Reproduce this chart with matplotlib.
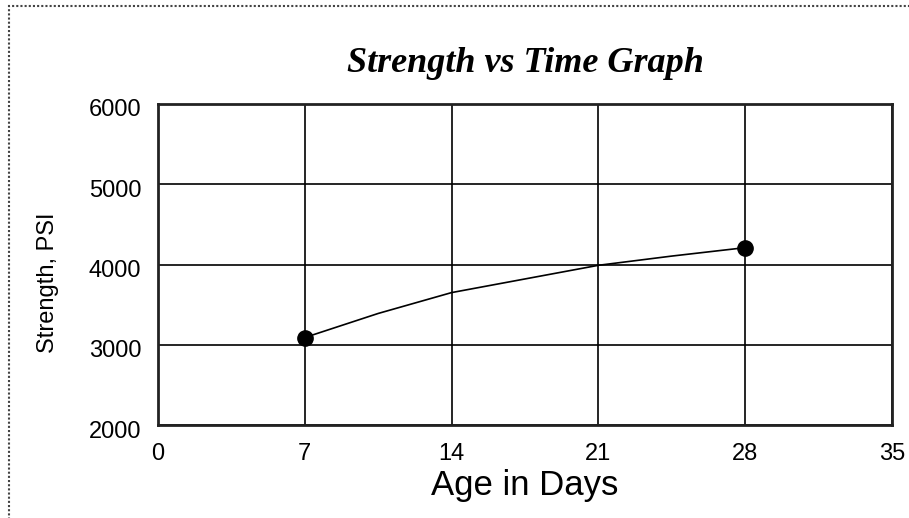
import matplotlib
matplotlib.use("Agg")
import matplotlib.pyplot as plt
from matplotlib.patches import Rectangle
from matplotlib.transforms import ScaledTranslation

# data
days_measured = [7, 28]
strength_measured = [3090, 4210]

days_curve = [7, 10.5, 14, 17.5, 21, 24.5, 28]
strength_curve = [3090, 3390, 3650, 3820, 3990, 4105, 4210]

x_ticks = [0, 7, 14, 21, 28, 35]
y_ticks = [2000, 3000, 4000, 5000, 6000]

fig = plt.figure(figsize=(9.09, 5.18), dpi=100)
ax = fig.add_axes([158 / 909, 1 - 425 / 518, 734 / 909, 321 / 518])

# fitted curve and the two measured points
ax.plot(days_curve, strength_curve, color="black", lw=1.2, zorder=3)
ax.plot(days_measured, strength_measured, "o", color="black",
        markersize=11, zorder=4)

ax.set_xlim(0, 35)
ax.set_ylim(2000, 6000)
ax.set_xticks(x_ticks)
ax.set_yticks(y_ticks)
ax.grid(True, color="black", lw=1.2, ls="-")
ax.set_axisbelow(True)
for sp in ax.spines.values():
    sp.set_linewidth(2.0)
    sp.set_color("#222222")

ax.tick_params(axis="both", length=0)
ax.tick_params(axis="x", pad=13, labelsize=17)
ax.tick_params(axis="y", pad=12, labelsize=17)
for lab in ax.get_xticklabels() + ax.get_yticklabels():
    lab.set_fontfamily("Liberation Sans")
# y labels sit a few pixels below their grid line in the original
down = ScaledTranslation(0, -4 / 100, fig.dpi_scale_trans)
for lab in ax.get_yticklabels():
    lab.set_transform(lab.get_transform() + down)

ax.set_xlabel("Age in Days", fontsize=25, family="Liberation Sans", labelpad=3)
ax.set_ylabel("Strength, PSI", fontsize=17, family="Liberation Sans")
ax.yaxis.set_label_coords((48 - 158) / 734, (425 - 283) / 321)
ax.yaxis.label.set_va("center")

fig.text(525 / 909, 1 - 63 / 518, "Strength vs Time Graph",
         family="Liberation Serif", style="italic", weight="bold",
         fontsize=26, ha="center", va="center")

# dotted frame around the whole picture (right/bottom run off the edge)
fig.add_artist(Rectangle((9 / 909, -0.05), 1.2, 1 - 6 / 518 + 0.05,
                         transform=fig.transFigure, fill=False,
                         ec="#444444", lw=1.5, ls=(0, (1, 1))))

fig.savefig("out.png", dpi=100)
